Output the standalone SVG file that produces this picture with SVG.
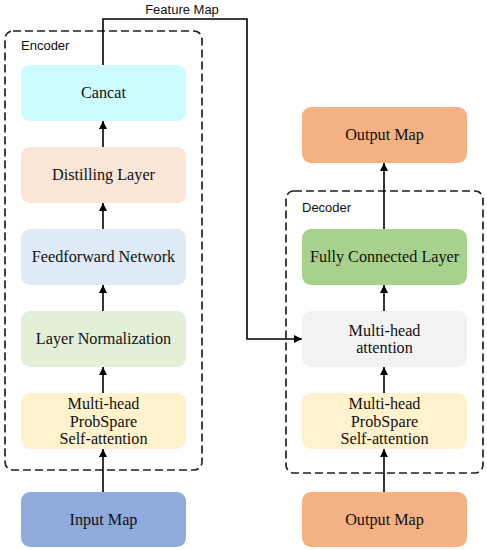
<svg xmlns="http://www.w3.org/2000/svg" width="487" height="550" viewBox="0 0 487 550">
<defs>
<marker id="ah" viewBox="0 0 10 10" refX="10" refY="5" markerWidth="8" markerHeight="8" markerUnits="userSpaceOnUse" orient="auto">
<path d="M0,0 L10,5 L0,10 z" fill="#000"/>
</marker>
<style>
.n{stroke:none}
.t{font-family:"Liberation Serif","Times New Roman",serif;font-size:16.2px;fill:#111;text-anchor:middle;dominant-baseline:central}
.s{font-family:"Liberation Sans",Arial,sans-serif;font-size:13px;fill:#111}
.c{fill:none;stroke:#000;stroke-width:1.6}
.d{fill:none;stroke:#222;stroke-width:1.7;stroke-dasharray:8,4}
</style>
</defs>
<rect width="487" height="550" fill="#fff"/>
<g id="encoder">
<rect class="d" x="5" y="31" width="197" height="439" rx="8"/>
<text class="s" x="21" y="50">Encoder</text>
</g>
<g id="decoder">
<rect class="d" x="286" y="191" width="197" height="282" rx="8"/>
<text class="s" x="302" y="212">Decoder</text>
</g>
<g id="cancat"><rect class="n" x="21" y="65" width="165" height="56" rx="9" fill="#CCFCFF"/><text class="t" x="103.5" y="93">Cancat</text></g>
<g id="distilling"><rect class="n" x="21" y="147" width="165" height="56" rx="9" fill="#FBE5D6"/><text class="t" x="103.5" y="175">Distilling Layer</text></g>
<g id="feedforward"><rect class="n" x="21" y="229" width="165" height="56" rx="9" fill="#DEEBF7"/><text class="t" x="103.5" y="257">Feedforward Network</text></g>
<g id="layernorm"><rect class="n" x="21" y="311" width="165" height="56" rx="9" fill="#E2F0D9"/><text class="t" x="103.5" y="339">Layer Normalization</text></g>
<g id="enc-attn"><rect class="n" x="21" y="393" width="165" height="56" rx="9" fill="#FFF2CC"/><text class="t" x="103.5" y="404">Multi-head</text><text class="t" x="103.5" y="421.5">ProbSpare</text><text class="t" x="103.5" y="439">Self-attention</text></g>
<g id="input"><rect class="n" x="21" y="492" width="165" height="55" rx="9" fill="#8FAADC"/><text class="t" x="103.5" y="519.5">Input Map</text></g>
<g id="output-top"><rect class="n" x="302" y="107" width="165" height="56" rx="9" fill="#F4B183"/><text class="t" x="384.5" y="135">Output Map</text></g>
<g id="fc"><rect class="n" x="302" y="229" width="165" height="56" rx="9" fill="#A9D18E"/><text class="t" x="384.5" y="257">Fully Connected Layer</text></g>
<g id="dec-mha"><rect class="n" x="302" y="311" width="165" height="56" rx="9" fill="#F2F2F2"/><text class="t" x="384.5" y="330.5">Multi-head</text><text class="t" x="384.5" y="348">attention</text></g>
<g id="dec-attn"><rect class="n" x="302" y="393" width="165" height="56" rx="9" fill="#FFF2CC"/><text class="t" x="384.5" y="404">Multi-head</text><text class="t" x="384.5" y="421.5">ProbSpare</text><text class="t" x="384.5" y="439">Self-attention</text></g>
<g id="output-bottom"><rect class="n" x="302" y="492" width="165" height="55" rx="9" fill="#F4B183"/><text class="t" x="384.5" y="519.5">Output Map</text></g>
<g id="connectors">
<line class="c" x1="103" y1="147" x2="103" y2="121" marker-end="url(#ah)"/>
<line class="c" x1="103" y1="229" x2="103" y2="203" marker-end="url(#ah)"/>
<line class="c" x1="103" y1="311" x2="103" y2="285" marker-end="url(#ah)"/>
<line class="c" x1="103" y1="393" x2="103" y2="367" marker-end="url(#ah)"/>
<line class="c" x1="103" y1="492" x2="103" y2="449" marker-end="url(#ah)"/>
<line class="c" x1="384" y1="229" x2="384" y2="163" marker-end="url(#ah)"/>
<line class="c" x1="384" y1="311" x2="384" y2="285" marker-end="url(#ah)"/>
<line class="c" x1="384" y1="393" x2="384" y2="367" marker-end="url(#ah)"/>
<line class="c" x1="384" y1="492" x2="384" y2="449" marker-end="url(#ah)"/>
<polyline class="c" points="103,65 103,19 247,19 247,339 302,339" marker-end="url(#ah)"/>
<text class="s" x="182" y="14" text-anchor="middle">Feature Map</text>
</g>
</svg>
